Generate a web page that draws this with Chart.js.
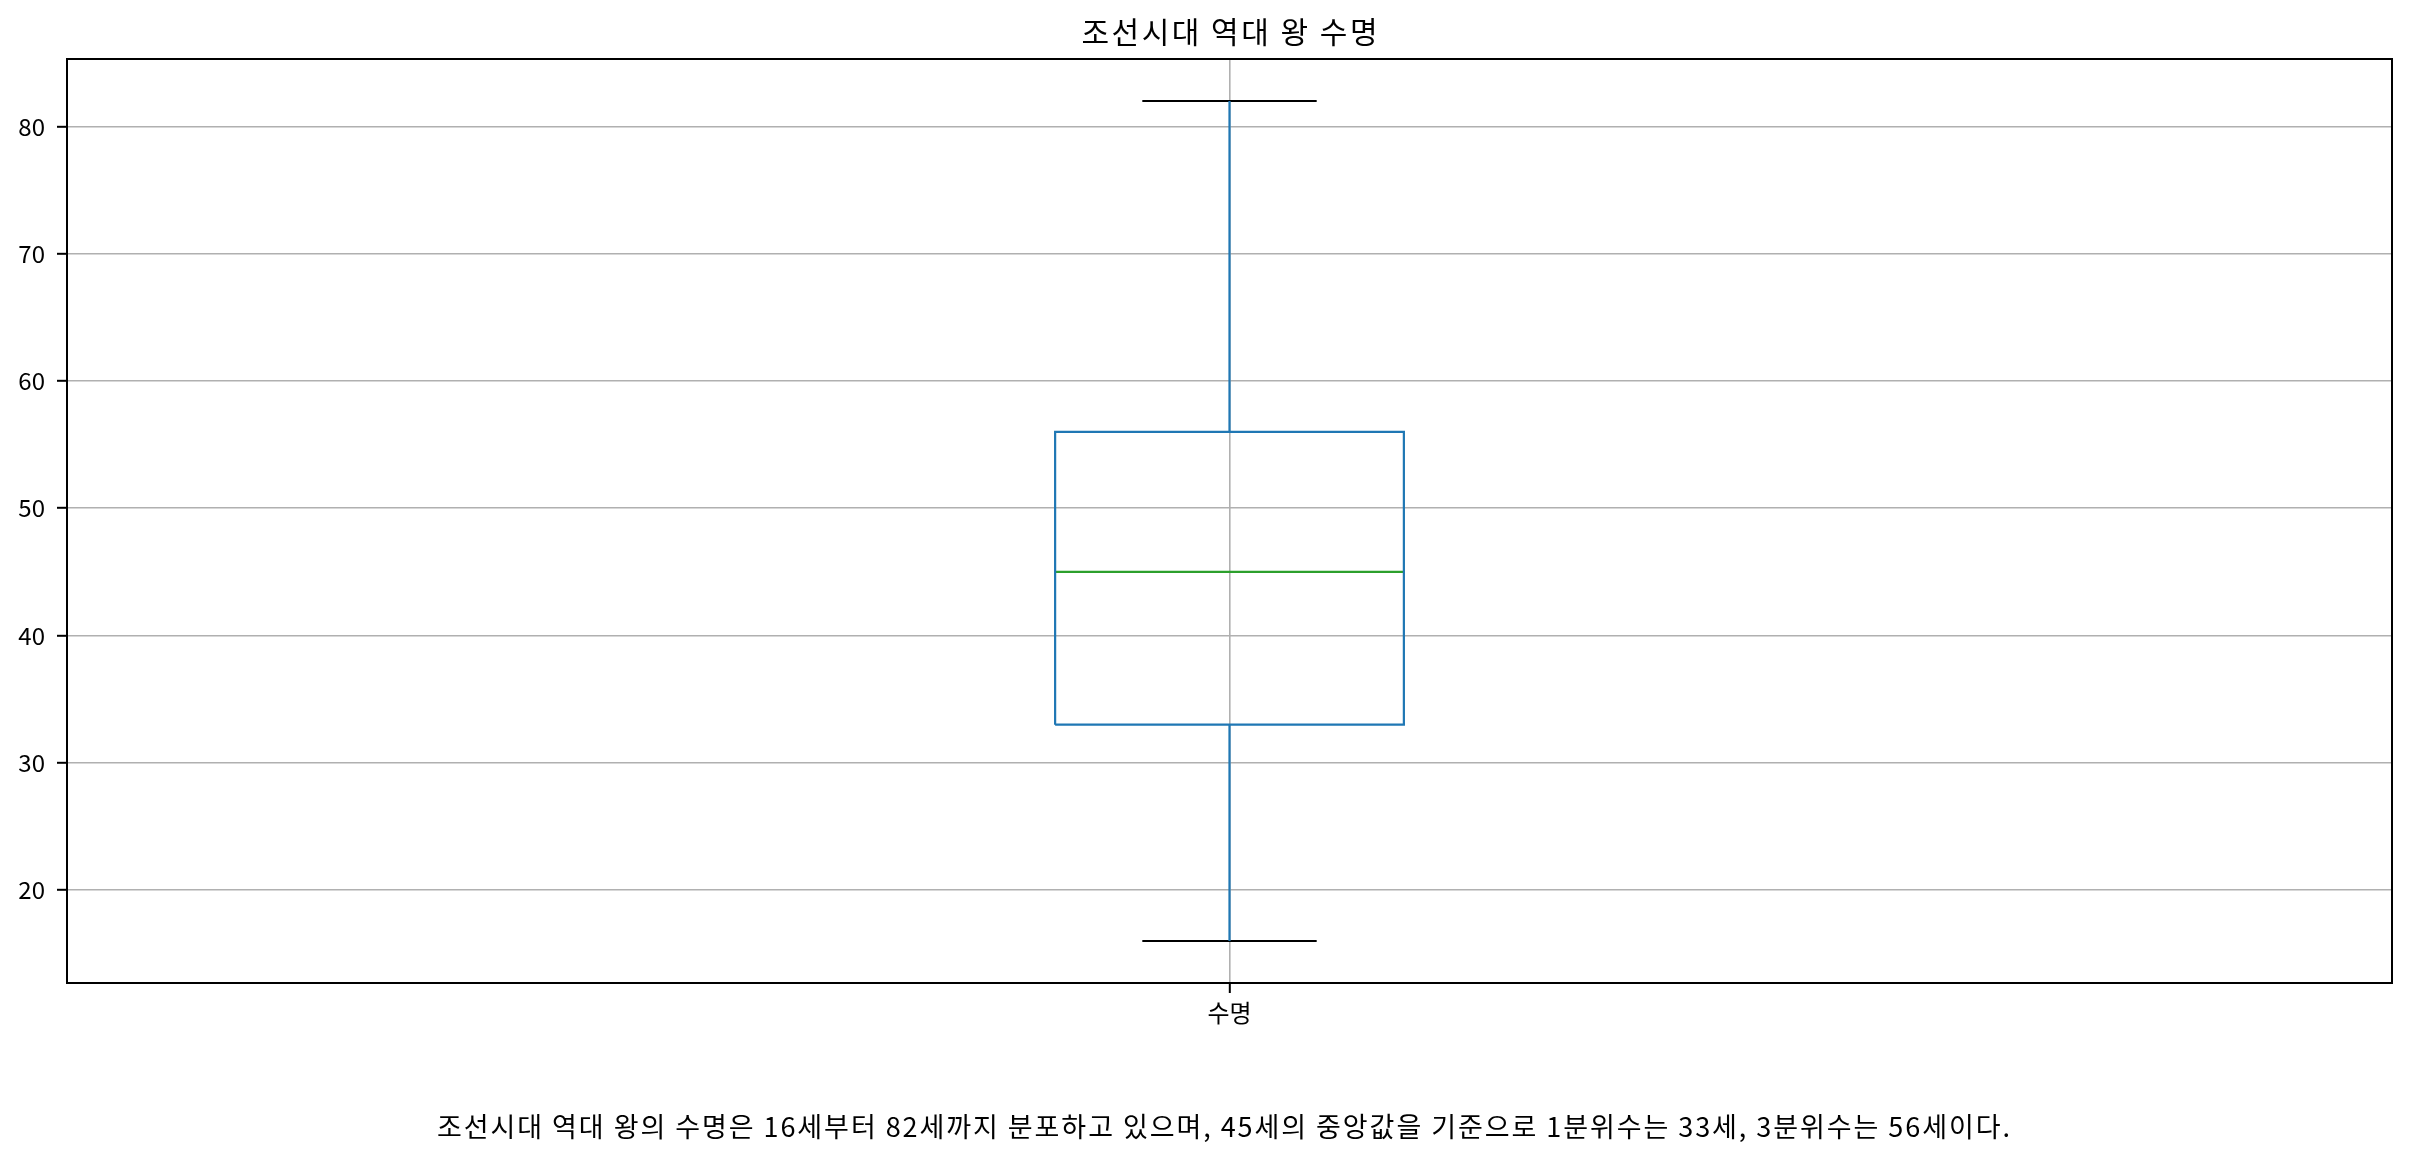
<!DOCTYPE html>
<html>
<head>
<meta charset="utf-8">
<script src="https://cdn.jsdelivr.net/npm/chart.js@4.4.1/dist/chart.umd.min.js"></script>
<style>
  html, body { margin: 0; padding: 0; background: #ffffff; }
  #wrap { width: 2412px; height: 1163px; }
</style>
</head>
<body>
<div id="wrap"><canvas id="c" width="2412" height="1163"></canvas></div>
<script>
// ---- data ----
const categories = ['수명'];
const whiskerLow = [16];
const quartile1 = [33];
const medians = [45];
const quartile3 = [56];
const whiskerHigh = [82];
const yTickValues = [20, 30, 40, 50, 60, 70, 80];
const chartTitle = '조선시대 역대 왕 수명';
const caption = '조선시대 역대 왕의 수명은 16세부터 82세까지 분포하고 있으며, 45세의 중앙값을 기준으로 1분위수는 33세, 3분위수는 56세이다.';

// ---- styles ----
const FONT = "'Noto Sans CJK KR', 'Noto Sans', sans-serif";
const BOX_W = 0.15;       // box width in x units
const CAP_HALF = 0.0375;  // half cap width in x units
const BLUE = '#1f77b4', GREEN = '#2ca02c', BLACK = '#000000', GRID = '#b0b0b0';

const lo = Math.min(...whiskerLow), hi = Math.max(...whiskerHigh);
const yMin = lo - 0.05 * (hi - lo), yMax = hi + 0.05 * (hi - lo);

const datasets = [];
categories.forEach((c, i) => {
  const x = i + 1;
  const common = { showLine: true, pointRadius: 0, pointHoverRadius: 0, borderWidth: 2.2, fill: false, tension: 0 };
  datasets.push(Object.assign({}, common, { borderColor: BLUE, data: [{x: x, y: quartile1[i]}, {x: x, y: whiskerLow[i]}] }));
  datasets.push(Object.assign({}, common, { borderColor: BLUE, data: [{x: x, y: quartile3[i]}, {x: x, y: whiskerHigh[i]}] }));
  datasets.push(Object.assign({}, common, { borderColor: BLACK, data: [{x: x - CAP_HALF, y: whiskerLow[i]}, {x: x + CAP_HALF, y: whiskerLow[i]}] }));
  datasets.push(Object.assign({}, common, { borderColor: BLACK, data: [{x: x - CAP_HALF, y: whiskerHigh[i]}, {x: x + CAP_HALF, y: whiskerHigh[i]}] }));
  datasets.push(Object.assign({}, common, { borderColor: BLUE, data: [
    {x: x - BOX_W/2, y: quartile1[i]}, {x: x + BOX_W/2, y: quartile1[i]},
    {x: x + BOX_W/2, y: quartile3[i]}, {x: x - BOX_W/2, y: quartile3[i]},
    {x: x - BOX_W/2, y: quartile1[i]} ] }));
  datasets.push(Object.assign({}, common, { borderColor: GREEN, data: [{x: x - BOX_W/2, y: medians[i]}, {x: x + BOX_W/2, y: medians[i]}] }));
});

function drawFitted(ctx, text, cx, cy, size, targetWidth) {
  ctx.save();
  ctx.font = size + 'px ' + FONT;
  ctx.fillStyle = '#000';
  ctx.textBaseline = 'middle';
  ctx.textAlign = 'left';
  ctx.letterSpacing = '0px';
  const w = ctx.measureText(text).width;
  const n = [...text].length;
  const ls = (targetWidth - w) / (n - 1);
  ctx.letterSpacing = ls + 'px';
  ctx.fillText(text, cx - targetWidth / 2, cy);
  ctx.restore();
}

const framePlugin = {
  id: 'frame',
  afterDraw(chart) {
    const ctx = chart.ctx, a = chart.chartArea;
    ctx.save();
    ctx.strokeStyle = '#000';
    ctx.lineWidth = 2;
    ctx.strokeRect(a.left, a.top, a.right - a.left, a.bottom - a.top);
    ctx.restore();
    drawFitted(ctx, chartTitle, (a.left + a.right) / 2, 31.5, 30, 296);
    drawFitted(ctx, caption, 1223.5, 1126.5, 27, 1573);
  }
};

new Chart(document.getElementById('c'), {
  type: 'scatter',
  data: { datasets },
  options: {
    responsive: false,
    animation: false,
    events: [],
    layout: { padding: { top: 59, right: 20, bottom: 0, left: 0 } },
    plugins: { legend: { display: false }, tooltip: { enabled: false }, title: { display: false } },
    scales: {
      x: {
        type: 'linear',
        min: 0.5,
        max: categories.length + 0.5,
        afterBuildTicks: (s) => { s.ticks = categories.map((c, i) => ({ value: i + 1 })); },
        afterFit: (s) => { s.height = 180; },
        ticks: {
          callback: (v) => categories[Math.round(v) - 1],
          color: '#000', padding: 5, maxRotation: 0,
          font: { family: FONT, size: 24 }
        },
        grid: { color: GRID, lineWidth: 1.6, tickColor: '#000', tickLength: 10, tickWidth: 2, drawTicks: true },
        border: { display: false }
      },
      y: {
        type: 'linear',
        min: yMin,
        max: yMax,
        afterBuildTicks: (s) => { s.ticks = yTickValues.map(v => ({ value: v })); },
        afterFit: (s) => { s.width = 67; },
        ticks: {
          callback: (v) => String(v),
          color: '#000', padding: 12,
          font: { family: FONT, size: 24 }
        },
        grid: { color: GRID, lineWidth: 1.6, tickColor: '#000', tickLength: 10, tickWidth: 2, drawTicks: true },
        border: { display: false }
      }
    }
  },
  plugins: [framePlugin]
});
</script>
</body>
</html>
